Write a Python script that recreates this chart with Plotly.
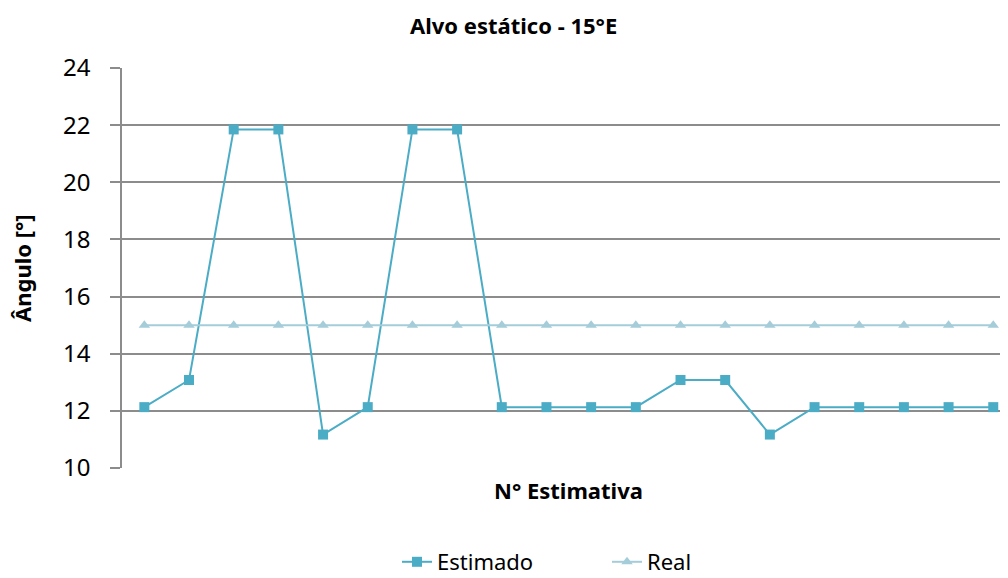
import plotly.graph_objects as go

n_estimativa = list(range(1, 21))
estimado = [12.13, 13.08, 21.85, 21.85, 11.17, 12.13, 21.85, 21.85, 12.13, 12.13,
            12.13, 12.13, 13.08, 13.08, 11.17, 12.13, 12.13, 12.13, 12.13, 12.13]
real = [15] * 20
y_ticks = [10, 12, 14, 16, 18, 20, 22, 24]

FONT = "Noto Sans, Liberation Sans, sans-serif"
grid = "#8c8c8c"

# page body has an 8px margin; screen coords of plot area: x 122..1008, y 68..468
OFF = 8
H = 578
fig = go.Figure()
fig.add_trace(go.Scatter(
    x=n_estimativa, y=estimado, name="Estimado", mode="lines+markers",
    line=dict(color="#4BACC6", width=2),
    marker=dict(symbol="square", size=10, color="#4BACC6"),
))
fig.add_trace(go.Scatter(
    x=n_estimativa, y=real, name="Real", mode="lines+markers",
    line=dict(color="#A5CDD9", width=2),
    marker=dict(symbol="triangle-up", size=10, color="#A5CDD9"),
))

fig.update_layout(
    width=1000, height=H,
    margin=dict(l=122 - OFF, r=0, t=68 - OFF, b=H + OFF - 468),
    paper_bgcolor="white", plot_bgcolor="white",
    font=dict(family=FONT, color="black"),
    showlegend=True,
    legend=dict(orientation="h", x=(397 - 122) / 886, xanchor="left",
                y=(468 - 562) / 400, yanchor="middle",
                font=dict(size=22, family=FONT),
                entrywidth=165, entrywidthmode="pixels", tracegroupgap=0),
    xaxis=dict(range=[0.5, 20.33], showticklabels=False, showgrid=False,
               zeroline=False, showline=False, ticks=""),
    yaxis=dict(range=[10, 24], tickvals=y_ticks, showgrid=True, gridcolor=grid,
               gridwidth=1.5, zeroline=False, showline=True, linecolor=grid,
               linewidth=1.5, ticks="outside", ticklen=10, tickcolor=grid, tickwidth=1.5,
               tickfont=dict(size=24, family=FONT), ticklabelstandoff=15),
)

def ann(text, sx, sy, size, angle=0):
    fig.add_annotation(text=text, xref="paper", yref="paper",
                       x=(sx - 122) / 886, y=(468 - sy) / 400,
                       xanchor="center", yanchor="middle", showarrow=False,
                       textangle=angle, font=dict(size=size, family=FONT, color="black"))

ann("<b>Alvo estático - 15°E</b>", 513, 25, 22)
ann("<b>Ângulo [°]</b>", 22, 268, 22, -90)
ann("<b>N° Estimativa</b>", 568, 490, 22)

fig.write_html("out.html")
